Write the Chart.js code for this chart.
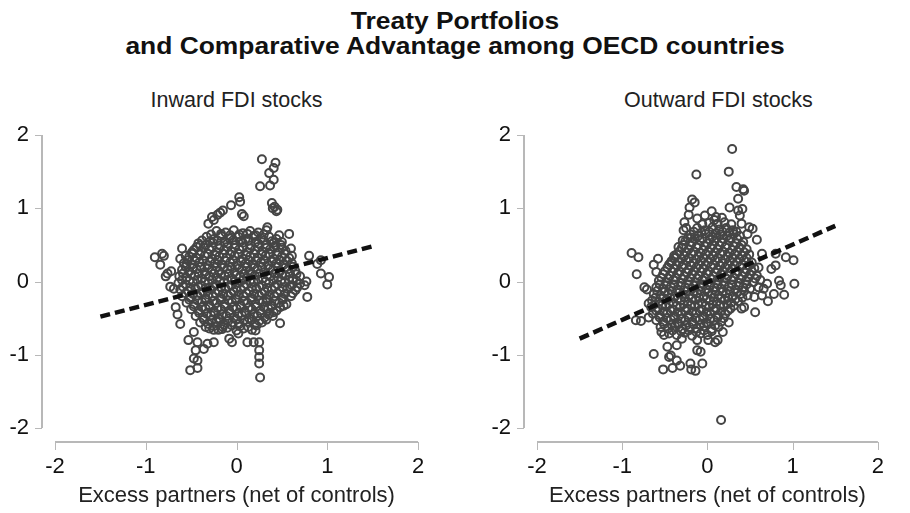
<!DOCTYPE html>
<html>
<head>
<meta charset="utf-8">
<script src="https://cdn.jsdelivr.net/npm/chart.js@4.4.1/dist/chart.umd.min.js"></script>
<style>
    body { margin: 0; background: #fff; font-family: "Liberation Sans", Arial, sans-serif; }
    #wrap { position: relative; width: 910px; height: 513px; overflow: hidden; }
    .title { position: absolute; left: 0; top: 8px; width: 910px; text-align: center; font-weight: bold; font-size: 24px; line-height: 25px; color: #111; transform: scaleX(1.1); }
    .sub { position: absolute; top: 88px; width: 363px; text-align: center; font-size: 21.5px; color: #222; }
    canvas { position: absolute; top: 0; }
</style>
</head>
<body>
<div id="wrap">
    <div class="title">Treaty Portfolios<br>and Comparative Advantage among OECD countries</div>
    <div class="sub" style="left:55px">Inward FDI stocks</div>
    <div class="sub" style="left:537px">Outward FDI stocks</div>
    <canvas id="inward" width="455" height="513" style="left:0"></canvas>
    <canvas id="outward" width="455" height="513" style="left:455px"></canvas>
</div>
<script>
const tickValues = [-2, -1, 0, 1, 2]
const xAxisTitle = 'Excess partners (net of controls)'

// fitted lines (endpoints)
const fitX = [-1.5, 1.5]
const inwardFitY = [-0.48, 0.48]
const outwardFitY = [-0.78, 0.76]

// scattered points away from the dense centre
const inwardOutliers = [
    [0.28,1.67],[0.43,1.62],[0.41,1.55],[0.36,1.48],[0.41,1.39],[0.37,1.31],[0.26,1.30],[0.39,1.07],[0.42,1.02],[0.45,0.98],[0.44,0.96],[0.40,1.00],
    [0.03,1.15],[0.04,1.09],[-0.06,1.04],[-0.15,0.97],[-0.18,0.94],[0.06,0.92],[0.08,0.89],[-0.27,0.88],[-0.25,0.84],[-0.31,0.79],[-0.21,0.91],
    [0.34,0.74],[0.47,0.63],[0.50,0.54],[0.43,0.49],
    [-0.90,0.33],[-0.82,0.38],[-0.80,0.35],[-0.84,0.23],[-0.76,0.11],[-0.72,0.14],[-0.78,0.07],[-0.73,-0.07],[-0.69,-0.10],
    [-0.60,0.45],[-0.40,0.49],[-0.49,0.40],[-0.56,0.35],[-0.62,0.31],[-0.55,0.23],
    [0.58,0.65],[0.60,0.45],[0.61,0.35],[0.80,0.35],[0.93,0.29],[0.89,0.24],[1.02,0.06],[1.00,-0.04],[0.93,0.11],[0.77,0.00],[0.75,-0.05],[0.78,-0.21],
    [0.52,-0.33],[0.48,-0.57],[0.41,-0.42],[0.35,-0.45],[0.33,-0.28],
    [0.25,-0.83],[0.25,-0.94],[0.25,-1.03],[0.25,-1.12],[0.26,-1.31],[0.12,-0.83],[0.19,-0.83],[0.21,-0.67],[0.02,-0.71],[-0.08,-0.78],[-0.05,-0.83],
    [-0.25,-0.83],[-0.32,-0.85],[-0.25,-0.66],[-0.43,-0.83],[-0.45,-0.94],[-0.36,-0.92],[-0.47,-1.05],[-0.43,-1.08],[-0.43,-1.18],[-0.51,-1.21],
    [-0.53,-0.80],[-0.47,-0.69],[-0.62,-0.58],[-0.65,-0.45],[-0.67,-0.35],[-0.34,-0.62],[-0.16,-0.65]
]

// dense centre of the inward cloud
const inwardCore = [
    [-0.22,0.69],[-0.12,0.67],[-0.03,0.70],[0.07,0.66],[0.15,0.69],[0.24,0.67],[0.33,0.70],
    [-0.33,0.61],[-0.25,0.58],[-0.17,0.62],[-0.08,0.59],[0.02,0.61],[0.10,0.58],[0.19,0.62],[0.27,0.59],[0.36,0.61],[0.44,0.58],
    [-0.42,0.52],[-0.34,0.50],[-0.26,0.53],[-0.18,0.49],[-0.10,0.52],[-0.01,0.50],[0.07,0.53],[0.16,0.49],[0.24,0.52],[0.33,0.50],[0.41,0.53],[0.49,0.50],
    [-0.47,0.43],[-0.39,0.41],[-0.30,0.44],[-0.22,0.40],[-0.14,0.43],[-0.05,0.41],[0.03,0.44],[0.12,0.40],[0.20,0.43],[0.29,0.41],[0.37,0.44],[0.46,0.40],[0.54,0.42],
    [-0.52,0.34],[-0.44,0.32],[-0.35,0.35],[-0.27,0.31],[-0.19,0.34],[-0.11,0.32],[-0.02,0.35],[0.07,0.31],[0.15,0.34],[0.24,0.32],[0.32,0.35],[0.41,0.31],[0.50,0.34],[0.58,0.32],
    [-0.58,0.25],[-0.49,0.23],[-0.41,0.26],[-0.32,0.22],[-0.24,0.25],[-0.16,0.23],[-0.07,0.26],[0.01,0.22],[0.10,0.25],[0.18,0.23],[0.27,0.26],[0.35,0.22],[0.44,0.25],[0.52,0.23],[0.61,0.25],
    [-0.60,0.16],[-0.52,0.14],[-0.44,0.17],[-0.35,0.13],[-0.27,0.16],[-0.19,0.14],[-0.10,0.17],[-0.02,0.13],[0.06,0.16],[0.15,0.14],[0.23,0.17],[0.31,0.13],[0.40,0.16],[0.48,0.14],[0.57,0.17],[0.65,0.14],
    [-0.63,0.07],[-0.55,0.05],[-0.46,0.08],[-0.38,0.04],[-0.30,0.07],[-0.21,0.05],[-0.13,0.08],[-0.05,0.04],[0.04,0.07],[0.12,0.05],[0.20,0.08],[0.29,0.04],[0.37,0.07],[0.46,0.05],[0.54,0.08],[0.62,0.04],[0.70,0.07],
    [-0.64,-0.02],[-0.56,-0.04],[-0.48,-0.01],[-0.39,-0.05],[-0.31,-0.02],[-0.23,-0.04],[-0.14,-0.01],[-0.06,-0.05],[0.02,-0.02],[0.11,-0.04],[0.19,-0.01],[0.28,-0.05],[0.36,-0.02],[0.45,-0.04],[0.53,-0.01],[0.61,-0.05],[0.70,-0.03],
    [-0.62,-0.11],[-0.53,-0.13],[-0.45,-0.10],[-0.37,-0.14],[-0.28,-0.11],[-0.20,-0.13],[-0.12,-0.10],[-0.03,-0.14],[0.05,-0.11],[0.14,-0.13],[0.22,-0.10],[0.31,-0.14],[0.39,-0.11],[0.48,-0.13],[0.56,-0.10],[0.65,-0.12],
    [-0.60,-0.20],[-0.51,-0.22],[-0.43,-0.19],[-0.34,-0.23],[-0.26,-0.20],[-0.18,-0.22],[-0.09,-0.19],[-0.01,-0.23],[0.08,-0.20],[0.16,-0.22],[0.25,-0.19],[0.33,-0.23],[0.42,-0.20],[0.50,-0.22],[0.60,-0.20],
    [-0.55,-0.29],[-0.47,-0.31],[-0.38,-0.28],[-0.30,-0.32],[-0.22,-0.29],[-0.13,-0.31],[-0.05,-0.28],[0.04,-0.32],[0.12,-0.29],[0.21,-0.31],[0.29,-0.28],[0.38,-0.32],[0.47,-0.29],[0.55,-0.31],
    [-0.50,-0.38],[-0.42,-0.40],[-0.34,-0.37],[-0.25,-0.41],[-0.17,-0.38],[-0.08,-0.40],[0.00,-0.37],[0.09,-0.41],[0.17,-0.38],[0.26,-0.40],[0.35,-0.37],[0.44,-0.40],
    [-0.45,-0.47],[-0.37,-0.49],[-0.28,-0.46],[-0.20,-0.50],[-0.11,-0.47],[-0.03,-0.49],[0.06,-0.46],[0.14,-0.50],[0.23,-0.47],[0.31,-0.49],[0.40,-0.47],
    [-0.40,-0.56],[-0.31,-0.58],[-0.22,-0.55],[-0.14,-0.59],[-0.05,-0.56],[0.03,-0.58],[0.12,-0.55],[0.20,-0.59],[0.28,-0.56],
    [-0.30,-0.64],[-0.20,-0.66],[-0.10,-0.63],[0.00,-0.67],[0.08,-0.64],[0.17,-0.66]
]

// points sitting between the rows above, so the centre reads as a solid mass
const inwardFill = [
    [-0.28,0.64],[-0.17,0.65],[-0.07,0.63],[0.03,0.64],[0.12,0.65],[0.21,0.63],[0.30,0.64],
    [-0.38,0.56],[-0.29,0.55],[-0.21,0.56],[-0.13,0.54],[-0.04,0.56],[0.05,0.55],[0.13,0.56],[0.21,0.54],[0.30,0.56],[0.39,0.55],
    [-0.44,0.47],[-0.36,0.46],[-0.27,0.47],[-0.19,0.45],[-0.10,0.47],[-0.02,0.46],[0.07,0.47],[0.15,0.45],[0.24,0.47],[0.33,0.46],[0.41,0.47],[0.50,0.46],
    [-0.49,0.38],[-0.40,0.37],[-0.32,0.38],[-0.23,0.36],[-0.15,0.38],[-0.07,0.37],[0.02,0.38],[0.11,0.36],[0.19,0.38],[0.28,0.37],[0.36,0.38],[0.45,0.36],[0.53,0.38],
    [-0.54,0.29],[-0.46,0.28],[-0.37,0.29],[-0.29,0.27],[-0.21,0.29],[-0.12,0.28],[-0.04,0.29],[0.05,0.27],[0.13,0.29],[0.22,0.28],[0.30,0.29],[0.39,0.27],[0.47,0.29],[0.56,0.28],
    [-0.56,0.20],[-0.48,0.19],[-0.39,0.20],[-0.31,0.18],[-0.22,0.20],[-0.14,0.19],[-0.06,0.20],[0.03,0.18],[0.11,0.20],[0.20,0.19],[0.28,0.20],[0.37,0.18],[0.45,0.20],[0.54,0.19],[0.62,0.20],
    [-0.59,0.11],[-0.50,0.10],[-0.42,0.11],[-0.34,0.09],[-0.25,0.11],[-0.17,0.10],[-0.09,0.11],[0.00,0.09],[0.08,0.11],[0.17,0.10],[0.25,0.11],[0.34,0.09],[0.42,0.11],[0.50,0.10],[0.59,0.11],[0.66,0.10],
    [-0.60,0.02],[-0.52,0.01],[-0.43,0.02],[-0.35,0.00],[-0.27,0.02],[-0.18,0.01],[-0.10,0.02],[-0.02,0.00],[0.07,0.02],[0.15,0.01],[0.24,0.02],[0.32,0.00],[0.41,0.02],[0.49,0.01],[0.58,0.02],[0.66,0.01],
    [-0.59,-0.07],[-0.51,-0.08],[-0.42,-0.07],[-0.34,-0.09],[-0.26,-0.07],[-0.17,-0.08],[-0.09,-0.07],[0.00,-0.09],[0.08,-0.07],[0.17,-0.08],[0.25,-0.07],[0.34,-0.09],[0.42,-0.07],[0.51,-0.08],[0.59,-0.07],[0.67,-0.08],
    [-0.56,-0.16],[-0.48,-0.17],[-0.40,-0.16],[-0.31,-0.18],[-0.23,-0.16],[-0.15,-0.17],[-0.06,-0.16],[0.02,-0.18],[0.11,-0.16],[0.19,-0.17],[0.28,-0.16],[0.36,-0.18],[0.45,-0.16],[0.53,-0.17],[0.62,-0.16],
    [-0.52,-0.25],[-0.43,-0.26],[-0.34,-0.25],[-0.26,-0.27],[-0.17,-0.25],[-0.09,-0.26],[0.00,-0.25],[0.08,-0.27],[0.17,-0.25],[0.25,-0.26],[0.34,-0.25],[0.42,-0.27],[0.51,-0.25],
    [-0.47,-0.34],[-0.38,-0.35],[-0.30,-0.34],[-0.21,-0.36],[-0.13,-0.34],[-0.04,-0.35],[0.05,-0.34],[0.13,-0.36],[0.22,-0.34],[0.30,-0.35],[0.39,-0.34],[0.48,-0.35],
    [-0.41,-0.43],[-0.33,-0.44],[-0.24,-0.43],[-0.16,-0.45],[-0.07,-0.43],[0.02,-0.44],[0.10,-0.43],[0.19,-0.45],[0.27,-0.43],[0.36,-0.44],
    [-0.36,-0.52],[-0.27,-0.53],[-0.18,-0.52],[-0.09,-0.54],[0.00,-0.52],[0.08,-0.53],[0.17,-0.52],[0.25,-0.54],[0.33,-0.52],
    [-0.25,-0.61],[-0.15,-0.62],[-0.05,-0.60],[0.04,-0.61],[0.13,-0.62],[0.22,-0.60]
]

const outwardOutliers = [
    [0.29,1.81],[-0.13,1.46],[0.25,1.50],[0.34,1.29],[0.42,1.26],[0.43,1.24],[0.36,1.13],[0.26,1.01],[0.36,0.97],[0.41,0.99],[0.38,0.90],[0.40,0.79],
    [-0.18,1.12],[-0.15,1.08],[-0.21,1.01],[-0.22,0.91],[-0.27,0.81],[-0.25,0.73],[-0.28,0.70],[-0.12,0.86],[0.05,0.96],[-0.03,0.90],[0.10,0.88],[-0.19,0.60],
    [0.02,0.80],[0.12,0.79],[0.20,0.81],[0.28,0.78],[-0.06,0.78],[0.08,0.84],[0.17,0.87],
    [0.49,0.74],[0.53,0.72],[0.58,0.57],[0.47,0.65],[-0.29,0.56],[-0.34,0.47],[-0.39,0.35],[-0.43,0.26],
    [-0.89,0.39],[-0.81,0.33],[-0.83,0.10],[-0.58,0.31],[-0.63,0.23],[-0.60,0.13],[-0.74,-0.08],[-0.71,-0.11],[-0.69,-0.30],[-0.84,-0.53],[-0.78,-0.54],[-0.69,-0.49],
    [-0.63,-0.99],[-0.52,-1.20],[-0.41,-1.18],[-0.45,-1.03],[-0.36,-1.08],[-0.32,-1.15],[-0.20,-1.12],[-0.19,-1.20],[-0.14,-1.22],[-0.06,-1.12],
    [-0.12,-0.94],[-0.08,-0.96],[-0.12,-0.80],[-0.47,-0.89],[-0.43,-1.01],[-0.36,-0.87],[-0.30,-0.78],[-0.54,-0.69],[-0.51,-0.73],
    [0.16,-1.89],[0.01,-0.80],[0.09,-0.83],[0.12,-0.80],[0.18,-0.69],[0.25,-0.56],[0.40,-0.37],[0.43,-0.35],[0.56,-0.42],
    [0.71,-0.27],[0.78,-0.17],[0.90,-0.18],[0.86,-0.05],[0.84,0.01],[1.02,-0.03],[1.01,0.29],[0.92,0.33],[0.80,0.22],[0.75,0.17],[0.80,0.38],[0.64,0.38],[0.60,0.19],
    [0.64,-0.19],[0.55,-0.21],[0.66,-0.10],[0.70,-0.03],[0.60,-0.08]
]

const outwardCore = [
    [-0.12,0.73],[-0.03,0.70],[0.06,0.74],[0.14,0.71],[0.22,0.73],[0.30,0.70],
    [-0.20,0.64],[-0.11,0.62],[-0.02,0.65],[0.06,0.61],[0.15,0.64],[0.23,0.62],[0.31,0.65],[0.38,0.62],
    [-0.26,0.55],[-0.18,0.53],[-0.09,0.56],[0.00,0.52],[0.08,0.55],[0.17,0.53],[0.25,0.56],[0.34,0.52],[0.42,0.54],
    [-0.30,0.46],[-0.22,0.44],[-0.13,0.47],[-0.05,0.43],[0.04,0.46],[0.12,0.44],[0.21,0.47],[0.29,0.43],[0.38,0.46],[0.46,0.44],
    [-0.36,0.37],[-0.27,0.35],[-0.19,0.38],[-0.10,0.34],[-0.02,0.37],[0.07,0.35],[0.15,0.38],[0.24,0.34],[0.32,0.37],[0.41,0.35],[0.49,0.37],
    [-0.42,0.28],[-0.33,0.26],[-0.25,0.29],[-0.16,0.25],[-0.08,0.28],[0.01,0.26],[0.09,0.29],[0.18,0.25],[0.26,0.28],[0.35,0.26],[0.43,0.29],[0.52,0.26],
    [-0.47,0.19],[-0.39,0.17],[-0.30,0.20],[-0.22,0.16],[-0.13,0.19],[-0.05,0.17],[0.04,0.20],[0.12,0.16],[0.21,0.19],[0.29,0.17],[0.38,0.20],[0.46,0.16],[0.55,0.18],
    [-0.52,0.10],[-0.44,0.08],[-0.35,0.11],[-0.27,0.07],[-0.18,0.10],[-0.10,0.08],[-0.01,0.11],[0.07,0.07],[0.16,0.10],[0.24,0.08],[0.33,0.11],[0.41,0.07],[0.50,0.10],[0.58,0.08],
    [-0.57,0.01],[-0.48,-0.01],[-0.40,0.02],[-0.31,-0.02],[-0.23,0.01],[-0.14,-0.01],[-0.06,0.02],[0.03,-0.02],[0.11,0.01],[0.20,-0.01],[0.28,0.02],[0.37,-0.02],[0.45,0.01],[0.54,-0.01],[0.62,0.02],
    [-0.60,-0.08],[-0.52,-0.10],[-0.43,-0.07],[-0.35,-0.11],[-0.26,-0.08],[-0.18,-0.10],[-0.09,-0.07],[-0.01,-0.11],[0.08,-0.08],[0.16,-0.10],[0.25,-0.07],[0.33,-0.11],[0.42,-0.08],[0.50,-0.10],
    [-0.63,-0.17],[-0.55,-0.19],[-0.46,-0.16],[-0.38,-0.20],[-0.29,-0.17],[-0.21,-0.19],[-0.12,-0.16],[-0.04,-0.20],[0.05,-0.17],[0.13,-0.19],[0.22,-0.16],[0.30,-0.20],[0.39,-0.17],[0.47,-0.19],
    [-0.65,-0.26],[-0.57,-0.28],[-0.48,-0.25],[-0.40,-0.29],[-0.31,-0.26],[-0.23,-0.28],[-0.14,-0.25],[-0.06,-0.29],[0.03,-0.26],[0.11,-0.28],[0.20,-0.25],[0.28,-0.29],[0.36,-0.27],
    [-0.66,-0.35],[-0.58,-0.37],[-0.49,-0.34],[-0.41,-0.38],[-0.32,-0.35],[-0.24,-0.37],[-0.15,-0.34],[-0.07,-0.38],[0.02,-0.35],[0.10,-0.37],[0.19,-0.34],[0.27,-0.37],
    [-0.64,-0.44],[-0.56,-0.46],[-0.47,-0.43],[-0.39,-0.47],[-0.30,-0.44],[-0.22,-0.46],[-0.13,-0.43],[-0.05,-0.47],[0.04,-0.44],[0.12,-0.46],[0.21,-0.44],
    [-0.60,-0.53],[-0.52,-0.55],[-0.43,-0.52],[-0.35,-0.56],[-0.26,-0.53],[-0.18,-0.55],[-0.09,-0.52],[-0.01,-0.56],[0.08,-0.53],[0.16,-0.55],
    [-0.55,-0.62],[-0.46,-0.64],[-0.38,-0.61],[-0.29,-0.65],[-0.21,-0.62],[-0.12,-0.64],[-0.04,-0.61],[0.05,-0.65],[0.13,-0.62],
    [-0.45,-0.71],[-0.36,-0.73],[-0.27,-0.70],[-0.18,-0.74],[-0.08,-0.71],[0.00,-0.73]
]

const outwardFill = [
    [-0.16,0.68],[-0.07,0.67],[0.02,0.68],[0.10,0.66],[0.18,0.68],[0.26,0.67],[0.34,0.68],
    [-0.23,0.59],[-0.15,0.58],[-0.06,0.59],[0.03,0.57],[0.11,0.59],[0.19,0.58],[0.27,0.59],[0.35,0.58],
    [-0.28,0.50],[-0.20,0.49],[-0.11,0.50],[-0.03,0.48],[0.06,0.50],[0.14,0.49],[0.23,0.50],[0.31,0.48],[0.40,0.50],
    [-0.33,0.41],[-0.25,0.40],[-0.16,0.41],[-0.08,0.39],[0.01,0.41],[0.09,0.40],[0.18,0.41],[0.26,0.39],[0.35,0.41],[0.43,0.40],
    [-0.39,0.32],[-0.30,0.31],[-0.22,0.32],[-0.13,0.30],[-0.05,0.32],[0.04,0.31],[0.12,0.32],[0.21,0.30],[0.29,0.32],[0.38,0.31],[0.46,0.32],
    [-0.45,0.23],[-0.36,0.22],[-0.28,0.23],[-0.19,0.21],[-0.10,0.23],[-0.02,0.22],[0.07,0.23],[0.15,0.21],[0.24,0.23],[0.32,0.22],[0.41,0.23],[0.49,0.22],
    [-0.50,0.14],[-0.41,0.13],[-0.33,0.14],[-0.24,0.12],[-0.16,0.14],[-0.07,0.13],[0.01,0.14],[0.10,0.12],[0.18,0.14],[0.27,0.13],[0.35,0.14],[0.44,0.12],[0.52,0.14],
    [-0.54,0.05],[-0.46,0.04],[-0.37,0.05],[-0.29,0.03],[-0.20,0.05],[-0.12,0.04],[-0.03,0.05],[0.05,0.03],[0.14,0.05],[0.22,0.04],[0.31,0.05],[0.39,0.03],[0.48,0.05],[0.56,0.04],
    [-0.56,-0.04],[-0.48,-0.05],[-0.39,-0.04],[-0.31,-0.06],[-0.22,-0.04],[-0.14,-0.05],[-0.05,-0.04],[0.03,-0.06],[0.12,-0.04],[0.20,-0.05],[0.29,-0.04],[0.37,-0.06],[0.46,-0.04],
    [-0.59,-0.13],[-0.50,-0.14],[-0.42,-0.13],[-0.33,-0.15],[-0.25,-0.13],[-0.16,-0.14],[-0.08,-0.13],[0.01,-0.15],[0.09,-0.13],[0.18,-0.14],[0.26,-0.13],[0.35,-0.15],[0.43,-0.13],
    [-0.61,-0.22],[-0.52,-0.23],[-0.44,-0.22],[-0.35,-0.24],[-0.27,-0.22],[-0.18,-0.23],[-0.10,-0.22],[-0.01,-0.24],[0.07,-0.22],[0.16,-0.23],[0.24,-0.22],[0.33,-0.24],[0.41,-0.22],
    [-0.62,-0.31],[-0.53,-0.32],[-0.45,-0.31],[-0.36,-0.33],[-0.28,-0.31],[-0.19,-0.32],[-0.11,-0.31],[-0.02,-0.33],[0.06,-0.31],[0.15,-0.32],[0.23,-0.31],[0.31,-0.33],
    [-0.60,-0.40],[-0.52,-0.41],[-0.43,-0.40],[-0.35,-0.42],[-0.26,-0.40],[-0.18,-0.41],[-0.09,-0.40],[-0.01,-0.42],[0.08,-0.40],[0.16,-0.41],[0.24,-0.40],
    [-0.56,-0.49],[-0.48,-0.50],[-0.39,-0.49],[-0.31,-0.51],[-0.22,-0.49],[-0.14,-0.50],[-0.05,-0.49],[0.03,-0.51],[0.12,-0.49],[0.19,-0.50],
    [-0.51,-0.58],[-0.42,-0.59],[-0.34,-0.58],[-0.25,-0.60],[-0.17,-0.58],[-0.08,-0.59],[0.00,-0.58],[0.09,-0.60],
    [-0.41,-0.67],[-0.31,-0.68],[-0.22,-0.67],[-0.13,-0.69],[-0.04,-0.67],[0.05,-0.68]
]

// Stata-style axes: drawn a little away from the plot region
const detachedAxes = {
    id: 'detachedAxes',
    afterDraw(chart) {
        const { ctx, chartArea, scales: { x, y } } = chart
        const axisX = chartArea.left - 13
        const axisY = chartArea.bottom + 14
        ctx.save()
        ctx.strokeStyle = '#b8b8b8'
        ctx.lineWidth = 2
        ctx.beginPath()
        ctx.moveTo(axisX, y.getPixelForValue(tickValues[tickValues.length - 1]))
        ctx.lineTo(axisX, y.getPixelForValue(tickValues[0]))
        ctx.moveTo(x.getPixelForValue(tickValues[0]), axisY)
        ctx.lineTo(x.getPixelForValue(tickValues[tickValues.length - 1]), axisY)
        ctx.stroke()
        ctx.lineWidth = 1
        ctx.beginPath()
        tickValues.forEach(v => {
            const py = Math.round(y.getPixelForValue(v)) + 0.5
            ctx.moveTo(axisX - 7, py)
            ctx.lineTo(axisX, py)
            const px = Math.round(x.getPixelForValue(v)) + 0.5
            ctx.moveTo(px, axisY)
            ctx.lineTo(px, axisY + 8)
        })
        ctx.stroke()
        ctx.restore()
    }
}

function toPoints(list) {
    return list.map(([x, y]) => ({ x, y }))
}

function renderPanel(canvasId, points, fitY, yWidth, rightPad) {
    const ctx = document.getElementById(canvasId)
    new Chart(ctx, {
        type: 'scatter',
        data: {
            datasets: [{
                type: 'line',
                data: fitX.map((x, i) => ({ x, y: fitY[i] })),
                borderColor: '#111',
                borderWidth: 4.5,
                borderDash: [10, 5],
                pointRadius: 0,
                fill: false,
                order: 0
            }, {
                data: toPoints(points),
                pointRadius: 4,
                borderWidth: 2,
                borderColor: '#454545',
                backgroundColor: 'rgba(0,0,0,0)',
                order: 1
            }]
        },
        options: {
            responsive: false,
            animation: false,
            events: [],
            layout: { padding: { top: 135, right: rightPad, left: 0, bottom: 0 } },
            plugins: {
                legend: { display: false },
                tooltip: { enabled: false }
            },
            scales: {
                x: {
                    type: 'linear',
                    min: -2,
                    max: 2,
                    afterFit: s => { s.height = 85 },
                    grid: { display: false, drawTicks: false },
                    border: { display: false },
                    ticks: { stepSize: 1, padding: 26, color: '#111', font: { family: 'Liberation Sans', size: 22 } },
                    title: {
                        display: true,
                        text: xAxisTitle,
                        color: '#222',
                        font: { family: 'Liberation Sans', size: 22 },
                        padding: { top: 0, bottom: 4 }
                    }
                },
                y: {
                    type: 'linear',
                    min: -2,
                    max: 2,
                    afterFit: s => { s.width = yWidth },
                    grid: { display: false, drawTicks: false },
                    border: { display: false },
                    ticks: { stepSize: 1, padding: 26, color: '#111', font: { family: 'Liberation Sans', size: 22 } }
                }
            }
        },
        plugins: [detachedAxes]
    })
}

renderPanel('inward', inwardCore.concat(inwardFill, inwardOutliers), inwardFitY, 55, 37)
renderPanel('outward', outwardCore.concat(outwardFill, outwardOutliers), outwardFitY, 82, 10)
</script>
</body>
</html>
